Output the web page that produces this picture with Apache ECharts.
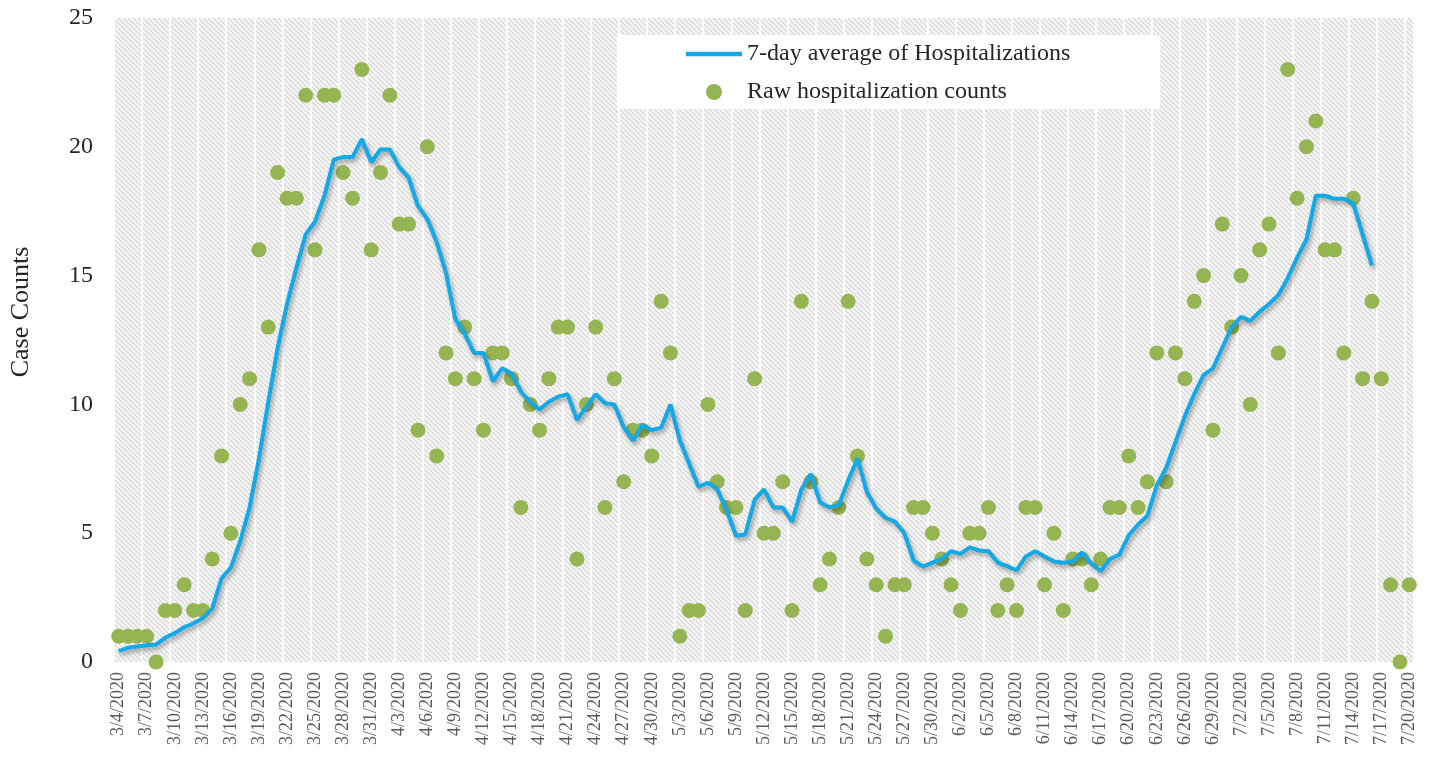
<!DOCTYPE html>
<html lang="en">
<head>
<meta charset="UTF-8">
<title>Hospitalizations</title>
<script src="https://cdn.jsdelivr.net/npm/echarts@6/dist/echarts.min.js"></script>
<style>
  html, body { margin: 0; padding: 0; background: #fff; }
  #chart { width: 1431px; height: 759px; }
</style>
</head>
<body>
<div id="chart"></div>
<script>
    // month, first day, last day  (3/4/2020 .. 7/20/2020)
    var monthSpans = [[3, 4, 31], [4, 1, 30], [5, 1, 31], [6, 1, 30], [7, 1, 20]];
    var dates = [];
    monthSpans.forEach(function (m) {
        for (var d = m[1]; d <= m[2]; d++) dates.push(m[0] + '/' + d + '/2020');
    });

    // raw daily hospitalization counts
    var rawCounts = [
        1, 1, 1, 1, 0, 2, 2, 3, 2, 2, 4, 8, 5, 10, 11, 16, 13, 19, 18, 18,
        22, 16, 22, 22, 19, 18, 23, 16, 19, 22, 17, 17, 9, 20, 8, 12, 11, 13, 11, 9,
        12, 12, 11, 6, 10, 9, 11, 13, 13, 4, 10, 13, 6, 11, 7, 9, 9, 8, 14, 12,
        1, 2, 2, 10, 7, 6, 6, 2, 11, 5, 5, 7, 2, 14, 7, 3, 4, 6, 14, 8,
        4, 3, 1, 3, 3, 6, 6, 5, 4, 3, 2, 5, 5, 6, 2, 3, 2, 6, 6, 3,
        5, 2, 4, 4, 3, 4, 6, 6, 8, 6, 7, 12, 7, 12, 11, 14, 15, 9, 17, 13,
        15, 10, 16, 17, 12, 23, 18, 20, 21, 16, 16, 12, 18, 11, 14, 11, 3, 0, 3
    ];

    // 7-day average (ends 7/16)
    var avg7 = [
        0.42, 0.55, 0.6, 0.65, 0.68, 0.95, 1.12, 1.35, 1.5, 1.7,
        2.07, 3.25, 3.67, 4.7, 6.0, 7.9, 10.1, 12.2, 13.9, 15.3,
        16.6, 17.1, 18.1, 19.5, 19.6, 19.6, 20.3, 19.4, 19.9, 19.9,
        19.2, 18.8, 17.7, 17.2, 16.3, 15.1, 13.3, 12.75, 12.0, 12.0,
        10.9, 11.4, 11.2, 10.5, 10.1, 9.8, 10.1, 10.3, 10.4, 9.4,
        9.9, 10.4, 10.05, 10.0, 9.1, 8.6, 9.2, 9.0, 9.1, 10.0,
        8.6, 7.7, 6.8, 6.96, 6.7, 5.9, 4.9, 4.95, 6.3, 6.7,
        6.0, 6.0, 5.45, 6.7, 7.3, 6.2, 6.0, 6.1, 7.05, 7.9,
        6.6, 5.96, 5.6, 5.45, 5.0, 3.94, 3.7, 3.86, 4.0, 4.3,
        4.2, 4.45, 4.33, 4.3, 3.86, 3.72, 3.56, 4.1, 4.3, 4.1,
        3.9, 3.85, 3.9, 4.25, 3.83, 3.53, 4.0, 4.17, 4.92, 5.34,
        5.68, 6.86, 7.53, 8.54, 9.55, 10.4, 11.14, 11.4, 12.2, 13.0,
        13.4, 13.24, 13.6, 13.9, 14.25, 14.9, 15.7, 16.4, 18.1, 18.1,
        17.98, 17.98, 17.8, 16.6, 15.4
    ];

    var yTicks = { min: 0, max: 25, step: 5 };
    var serif = '"Liberation Serif", "DejaVu Serif", serif';

    // diagonal hatch for the plot area
    function hatch() {
        var c = document.createElement('canvas');
        c.width = 5; c.height = 5;
        var ctx = c.getContext('2d');
        ctx.fillStyle = '#f5f5f5';
        ctx.fillRect(0, 0, 5, 5);
        ctx.strokeStyle = '#d4d4d4';
        ctx.lineWidth = 1.1;
        ctx.beginPath();
        ctx.moveTo(-1, -1); ctx.lineTo(6, 6);
        ctx.moveTo(-1, 4); ctx.lineTo(1, 6);
        ctx.moveTo(4, -1); ctx.lineTo(6, 1);
        ctx.stroke();
        return c;
    }

    var myChart = echarts.init(document.getElementById('chart'));

    myChart.setOption({
        animation: false,
        textStyle: { fontFamily: serif },
        grid: {
            left: 114, right: 17, top: 18, bottom: 97,
            show: true,
            borderWidth: 0,
            backgroundColor: { image: hatch(), repeat: 'repeat' }
        },
        legend: {
            orient: 'vertical',
            left: 617,
            top: 35,
            width: 543,
            backgroundColor: '#ffffff',
            padding: [7, 90, 5, 69],
            itemWidth: 56,
            itemHeight: 16,
            itemGap: 14,
            symbolKeepAspect: true,
            textStyle: { fontFamily: serif, fontSize: 24, color: '#262626' },
            data: [
                { name: '7-day average of Hospitalizations', icon: 'path://M0 0H56V4.5H0Z' },
                { name: 'Raw hospitalization counts', icon: 'circle' }
            ]
        },
        xAxis: {
            type: 'category',
            data: dates,
            boundaryGap: true,
            axisLine: { show: false },
            axisTick: { show: false },
            axisLabel: {
                interval: 2,
                rotate: 90,
                fontSize: 18,
                color: '#595959',
                margin: 10
            },
            splitLine: {
                show: true,
                interval: 2,
                lineStyle: { color: 'rgba(255,255,255,0.85)', width: 2 }
            }
        },
        yAxis: {
            type: 'value',
            min: yTicks.min,
            max: yTicks.max,
            interval: yTicks.step,
            name: 'Case Counts',
            nameLocation: 'middle',
            nameGap: 80,
            nameTextStyle: {
                fontFamily: serif, fontSize: 26, color: '#262626',
                padding: [0, 0, 0, 56]
            },
            axisLine: { show: false },
            axisTick: { show: false },
            splitLine: { show: false },
            axisLabel: { fontSize: 24, color: '#262626', margin: 21 }
        },
        series: [
            {
                name: '7-day average of Hospitalizations',
                type: 'line',
                data: avg7,
                symbol: 'none',
                z: 3,
                itemStyle: { color: '#12A9E6' },
                lineStyle: {
                    color: '#12A9E6',
                    width: 4,
                    shadowColor: 'rgba(0,0,0,0.35)',
                    shadowBlur: 4,
                    shadowOffsetX: 2,
                    shadowOffsetY: 3
                }
            },
            {
                name: 'Raw hospitalization counts',
                type: 'scatter',
                data: rawCounts,
                symbolSize: 15,
                z: 2,
                itemStyle: { color: '#95B552', opacity: 1 }
            }
        ]
    });
</script>
</body>
</html>
